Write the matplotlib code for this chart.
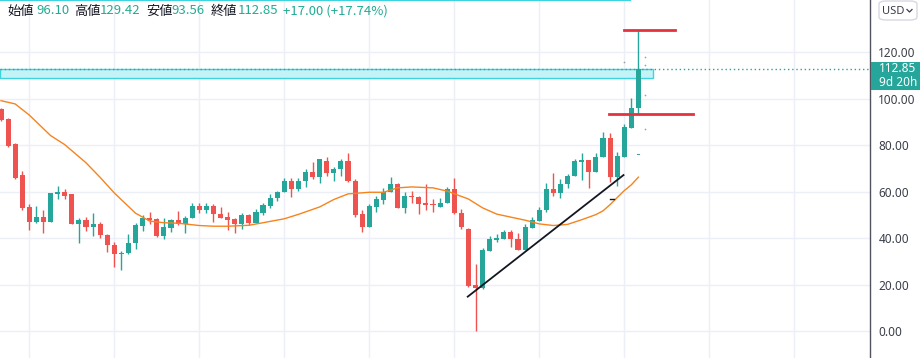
import matplotlib
matplotlib.use('Agg')
import matplotlib.pyplot as plt
from matplotlib.patches import Rectangle, FancyBboxPatch
from matplotlib.lines import Line2D

plt.rcParams['font.family'] = ['Noto Sans CJK JP', 'DejaVu Sans']

# ---- data ----
opens = [95.6, 91.3, 80.6, 67.2, 53.5, 47.1, 49.0, 47.1, 59.2, 59.9,
         59.1, 46.3, 47.9, 44.9, 46.3, 41.4, 37.1, 33.2, 33.7, 37.8,
         45.3, 48.6, 48.2, 41.0, 44.6, 47.9, 46.2, 48.6, 53.9, 52.2,
         53.9, 50.3, 49.3, 48.2, 46.2, 50.0, 46.7, 51.0, 54.0, 57.2,
         59.8, 64.6, 61.1, 64.6, 68.4, 66.5, 73.2, 68.0, 69.8, 73.2,
         64.6, 50.3, 45.0, 53.6, 56.5, 59.8, 63.4, 52.9, 58.3, 57.6,
         55.1, 54.8, 53.6, 55.3, 61.2, 51.0, 44.0, 19.9, 18.5, 34.7,
         39.3, 39.7, 42.8, 39.7, 35.0, 44.6, 47.6, 52.0, 61.2, 59.4,
         63.2, 66.8, 72.9, 73.7, 68.4, 74.8, 83.0, 66.5, 75.1, 87.3,
         96.10]
highs = [96.2, 91.9, 81.1, 69.1, 54.6, 53.9, 52.0, 59.6, 62.6, 61.2,
         59.2, 48.9, 49.2, 50.8, 46.9, 42.0, 38.5, 34.5, 42.0, 46.5,
         50.0, 51.3, 48.6, 48.9, 48.3, 51.7, 49.7, 55.1, 55.3, 55.1,
         54.6, 53.3, 51.4, 48.9, 50.8, 50.5, 52.5, 55.1, 59.1, 60.5,
         65.9, 65.8, 66.1, 69.7, 72.7, 74.0, 74.8, 70.5, 74.0, 76.8,
         65.4, 52.2, 54.9, 58.3, 61.5, 66.5, 63.7, 59.8, 60.5, 58.2,
         63.2, 56.8, 57.5, 62.2, 65.8, 52.5, 44.3, 28.8, 35.7, 41.1,
         41.7, 43.6, 43.6, 42.2, 46.0, 49.0, 53.6, 63.6, 68.0, 65.5,
         67.7, 74.0, 76.8, 73.7, 76.6, 85.6, 85.2, 77.0, 89.0, 100.2,
         129.42]
lows = [90.5, 79.4, 65.3, 52.2, 43.6, 46.7, 42.2, 47.1, 56.8, 56.9,
        46.0, 37.8, 43.1, 41.0, 40.0, 34.2, 27.8, 26.4, 33.4, 35.3,
        43.1, 46.2, 40.4, 39.6, 42.8, 45.7, 42.4, 48.6, 50.8, 51.0,
        47.1, 48.6, 43.6, 42.2, 44.0, 45.7, 46.7, 50.0, 53.2, 56.0,
        59.8, 57.9, 60.3, 62.2, 65.4, 63.7, 66.9, 64.6, 66.9, 64.3,
        49.3, 42.6, 45.0, 51.4, 54.6, 59.8, 52.9, 50.8, 55.1, 50.5,
        52.2, 51.2, 53.6, 55.3, 50.5, 43.9, 19.2, 0.0, 18.0, 34.7,
        38.5, 39.7, 36.1, 35.0, 35.0, 44.3, 47.6, 51.5, 58.3, 57.5,
        61.8, 66.8, 65.1, 61.8, 68.4, 74.8, 64.3, 62.5, 75.1, 87.3,
        93.56]
closes = [90.9, 79.8, 65.8, 53.2, 47.1, 49.0, 47.1, 59.4, 60.0, 58.3,
          46.3, 47.9, 45.0, 46.3, 41.4, 37.1, 33.2, 33.7, 37.8, 45.7,
          48.6, 47.9, 41.0, 44.7, 47.9, 46.2, 48.6, 53.9, 52.2, 53.9,
          50.3, 48.6, 47.9, 46.2, 50.0, 46.7, 51.2, 54.3, 57.2, 59.8,
          64.6, 61.1, 64.6, 68.4, 66.5, 74.0, 68.0, 69.8, 73.2, 64.6,
          50.0, 45.0, 53.9, 56.9, 60.0, 63.2, 52.9, 58.3, 57.6, 54.6,
          54.3, 54.2, 55.3, 61.2, 51.0, 44.7, 19.5, 18.5, 35.0, 39.7,
          40.3, 42.8, 39.6, 35.0, 45.0, 47.9, 52.0, 61.3, 59.4, 63.2,
          66.8, 73.4, 73.7, 68.4, 74.8, 83.0, 66.5, 75.4, 88.0, 96.1,
          112.85]

ma_idx = [0, 2, 4, 7, 9, 12, 14, 16, 19, 21, 23, 25, 28, 30, 32, 35, 37, 40,
          42, 45, 47, 49, 52, 54, 56, 58, 61, 63, 66, 68, 70, 72, 74, 76,
          78, 80, 82, 84, 85, 86, 87, 88, 89, 90]
ma_val = [99.2, 97.8, 93.0, 84.2, 80.3, 72.5, 66.2, 59.5, 50.8, 47.4, 46.7,
          46.5, 45.5, 45.2, 45.2, 45.6, 46.7, 48.4, 50.3, 53.5, 56.7, 59.1,
          59.8, 59.8, 61.7, 62.1, 61.7, 60.3, 56.9, 53.1, 50.4, 49.1, 47.8,
          46.2, 45.5, 46.0, 48.0, 50.2, 51.8, 54.5, 57.5, 60.5, 63.0, 66.3]

trend_idx = [65.9, 87.9]
trend_val = [14.9, 67.2]

high_line = 129.42
low_line = 93.56
last_price = 112.85
zone_top, zone_bottom = 112.8, 109.1

dot_idx = [91.0, 91.0, 91.0, 91.0, 87.9]
dot_val = [118.1, 114.5, 101.5, 87.1, 116.0]

yticks = [0, 20, 40, 60, 80, 100, 120]

header = [("始値", "96.10"), ("高値", "129.42"), ("安値", "93.56"), ("終値", "112.85")]
change_text = "+17.00 (+17.74%)"

# ---- figure ----
W, H = 923, 358
fig = plt.figure(figsize=(W / 100, H / 100), dpi=100)
fig.patch.set_facecolor('white')
ax = fig.add_axes([0, 0, 870 / W, 1])
ax.set_xlim(-0.14, 122.7)
ax.set_ylim(-11.48, 142.5)

UP = '#26a69a'
DOWN = '#ef5350'
n = len(opens)
xs = list(range(n))
colors = [UP if c >= o else DOWN for o, c in zip(opens, closes)]
bottoms = [min(o, c) for o, c in zip(opens, closes)]
heights = [max(abs(c - o), 0.45) for o, c in zip(opens, closes)]
ax.vlines(xs, lows, highs, colors=colors, linewidth=1.0, zorder=3)
ax.bar(xs, heights, bottom=bottoms, width=0.72, color=colors, linewidth=0, zorder=4)

ax.plot(ma_idx, ma_val, color='#f5841f', linewidth=1.0, zorder=5)
ax.plot(trend_idx, trend_val, color='#131722', linewidth=1.3, zorder=6)

# zone rectangle
ax.add_patch(Rectangle((-0.14, zone_bottom), 92.0 + 0.14, zone_top - zone_bottom,
                       facecolor='#c4f3f7', edgecolor='#3fd3e0', linewidth=1.0, zorder=2))
ax.plot([-0.14, 88.8], [142.3, 142.3], color='#3fd3e0', linewidth=1.5, zorder=2, clip_on=False)

# high/low lines
ax.plot([87.9, 95.1], [high_line, high_line], color='#e5323f', linewidth=2, zorder=6)
ax.plot([85.9, 97.7], [low_line, low_line], color='#e5323f', linewidth=2, zorder=6)

# last price dotted line
ax.axhline(last_price, color=UP, linewidth=1, linestyle=(0, (1, 2)), zorder=6)

ax.scatter(dot_idx, dot_val, s=1.5, color='#9aa0a8', zorder=6, linewidths=0)
ax.plot([89.85, 90.15], [76.1, 76.1], color='#4f9f95', linewidth=0.8, zorder=6)
ax.plot([86.0, 86.6], [56.9, 56.9], color='#131722', linewidth=1, zorder=6)

# axes styling
ax.set_xticks([4, 16, 28, 40, 52, 64, 76, 88, 100, 112])
ax.set_yticks(yticks)
ax.set_yticklabels([f"{v:.2f}" for v in yticks])
ax.yaxis.tick_right()
ax.tick_params(axis='x', length=0, labelbottom=False)
ax.tick_params(axis='y', length=0, pad=6, labelsize=8.5, labelcolor='#3b3e48')
for lab in ax.get_yticklabels():
    lab.set_fontfamily(['Noto Sans', 'DejaVu Sans'])
ax.grid(True, color='#eceff5', linewidth=1, zorder=0)
ax.set_axisbelow(True)
for s in ['left', 'top', 'bottom']:
    ax.spines[s].set_visible(False)
ax.spines['right'].set_color('#50535e')
ax.spines['right'].set_linewidth(1)


def fx(px):
    return px / W


def fy(py):
    return 1 - py / H


# header text
label_x = [7, 74, 146, 211]
value_x = [36, 100, 171, 238]
for (lab, val), lx, vx in zip(header, label_x, value_x):
    fig.text(fx(lx), fy(11), lab, fontsize=9.5, color='#131722', va='center', ha='left')
    fig.text(fx(vx), fy(11), val, fontsize=9.5, color='#22ab94', va='center', ha='left')
fig.text(fx(283), fy(11), change_text, fontsize=9.5, color='#22ab94', va='center', ha='left')

# price label box
fig.add_artist(Rectangle((fx(871), fy(90)), 49 / W, 28 / H, transform=fig.transFigure,
                         facecolor='#26a69a', edgecolor='none'))
fig.text(fx(879), fy(69), "112.85", fontsize=8.5, color='white', fontweight='bold',
         va='center', ha='left', family=['Noto Sans', 'DejaVu Sans'])
fig.text(fx(879), fy(83), "9d 20h", fontsize=8.5, color='white',
         va='center', ha='left', family=['Noto Sans', 'DejaVu Sans'])

# USD button
fig.add_artist(FancyBboxPatch((fx(879), fy(20)), 38 / W, 19 / H, transform=fig.transFigure,
                              boxstyle='round,pad=0,rounding_size=0.008',
                              facecolor='white', edgecolor='#d6d9e0', linewidth=1))
fig.text(fx(882), fy(11), "USD", fontsize=8, color='#3b3e48', va='center', ha='left',
         family=['Noto Sans', 'DejaVu Sans'])
fig.add_artist(Line2D([fx(907), fx(909.5), fx(912)], [fy(9.5), fy(12), fy(9.5)],
                      transform=fig.transFigure, color='#3b3e48', linewidth=0.9))

fig.savefig('out.png', dpi=100, facecolor='white')
